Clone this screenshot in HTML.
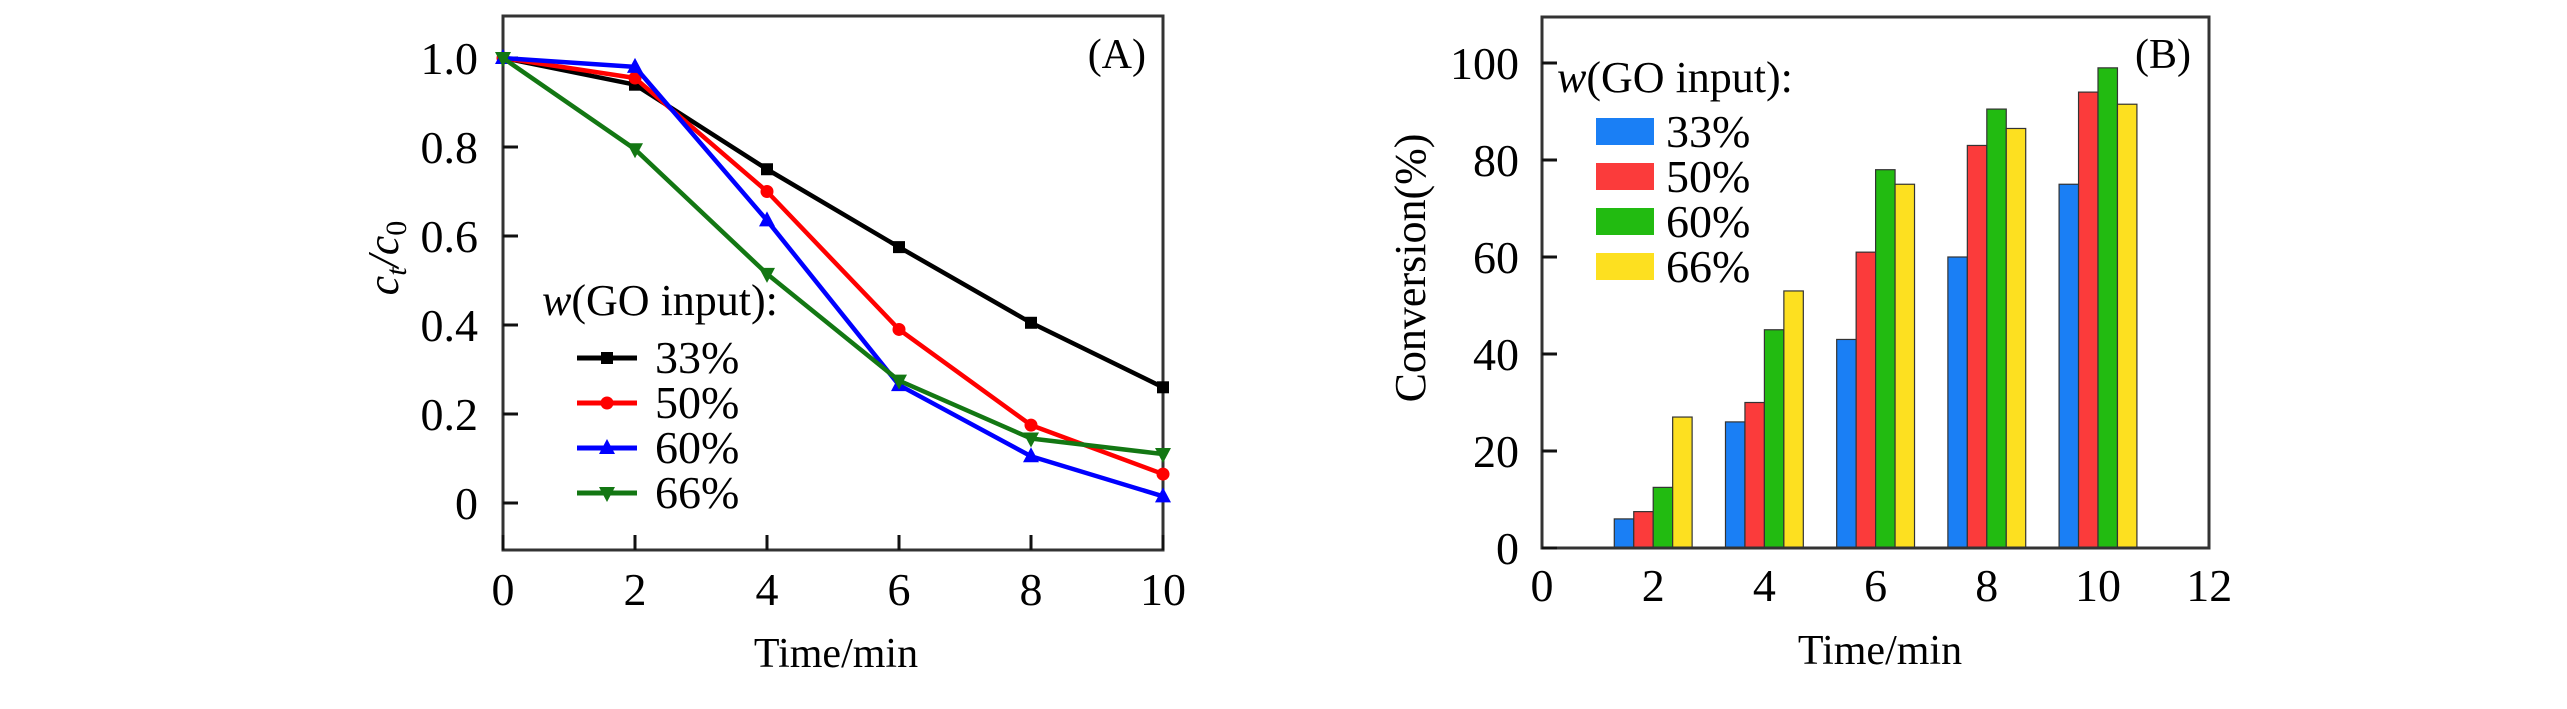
<!DOCTYPE html>
<html><head><meta charset="utf-8"><style>
html,body{margin:0;padding:0;background:#fff;}
svg{display:block;}
svg text{font-family:"Liberation Serif","Times New Roman",serif;}
</style></head><body>
<svg id="chart" width="2567" height="709" viewBox="0 0 2567 709" xmlns="http://www.w3.org/2000/svg" font-family="Liberation Serif, serif">
<g id="A"></g>
<g id="B"></g>
</svg>
<script>
const timesA = [0, 2, 4, 6, 8, 10];
const s33 = [1.0, 0.94, 0.75, 0.575, 0.405, 0.26];
const s50 = [1.0, 0.955, 0.70, 0.39, 0.175, 0.065];
const s60 = [1.0, 0.98, 0.635, 0.265, 0.105, 0.015];
const s66 = [1.0, 0.795, 0.515, 0.275, 0.145, 0.11];
const seriesLabels = ["33%", "50%", "60%", "66%"];
const xTicksA = [0, 2, 4, 6, 8, 10];
const yTicksA = [0, 0.2, 0.4, 0.6, 0.8, 1.0];
const yTickLabelsA = ["0", "0.2", "0.4", "0.6", "0.8", "1.0"];

const timesB = [2, 4, 6, 8, 10];
const b33 = [6, 26, 43, 60, 75];
const b50 = [7.5, 30, 61, 83, 94];
const b60 = [12.5, 45, 78, 90.5, 99];
const b66 = [27, 53, 75, 86.5, 91.5];
const xTicksB = [0, 2, 4, 6, 8, 10, 12];
const yTicksB = [0, 20, 40, 60, 80, 100];

const NS = "http://www.w3.org/2000/svg";
function mk(parent, tag, attrs, text) {
  const e = document.createElementNS(NS, tag);
  for (const k in attrs) e.setAttribute(k, attrs[k]);
  if (tag === 'text') e.setAttribute('font-family', 'Liberation Serif, serif');
  if (text !== undefined) e.textContent = text;
  parent.appendChild(e);
  return e;
}

// ---------- Panel A ----------
const A = document.getElementById('A');
const ax = v => 503 + v * 66;
const ay = v => 503 - v * 445;
let el;
el = mk(A, 'rect', {x:503, y:16, width:660, height:534, fill:'none', stroke:'#333', 'stroke-width':3});


xTicksA.forEach(t => {
  el = mk(A, 'line', {x1:ax(t), x2:ax(t), y1:550, y2:535, stroke:'#111', 'stroke-width':3});
  
  
  el = mk(A, 'text', {x:ax(t), y:605, 'font-size':46, 'text-anchor':'middle'}, String(t));
  
  
});
yTicksA.forEach((t, i) => {
  el = mk(A, 'line', {x1:503, x2:518, y1:ay(t), y2:ay(t), stroke:'#111', 'stroke-width':3});
  
  
  el = mk(A, 'text', {x:478, y:ay(t) + 16, 'font-size':46, 'text-anchor':'end'}, yTickLabelsA[i]);
  
  
});
el = mk(A, 'text', {x:836, y:667, 'font-size':42, 'text-anchor':'middle'}, 'Time/min');


el = mk(A, 'text', {x:0, y:0, 'font-size':44, 'text-anchor':'middle', 'font-style':'italic', transform:'translate(398,258) rotate(-90)'});


el.innerHTML = 'c<tspan font-size="30" dy="8">t</tspan><tspan dy="-8">/c</tspan><tspan font-size="30" dy="8" font-style="normal">0</tspan>';
el = mk(A, 'text', {x:1146, y:68, 'font-size':42, 'text-anchor':'end'}, '(A)');



const colorsA = ['#000000', '#ff0000', '#0000ff', '#137713'];
const dataA = [s33, s50, s60, s66];
function marker(g, type, x, y, c) {
  let m;
  if (type === 0) m = mk(g, 'rect', {x:x-6, y:y-6, width:12, height:12, fill:c});
  else if (type === 1) m = mk(g, 'circle', {cx:x, cy:y, r:6.5, fill:c});
  else if (type === 2) m = mk(g, 'polygon', {points:`${x},${y-9} ${x-8},${y+6} ${x+8},${y+6}`, fill:c});
  else m = mk(g, 'polygon', {points:`${x},${y+9} ${x-8},${y-6} ${x+8},${y-6}`, fill:c});
  return m;
}
dataA.forEach((s, si) => {
  const g = mk(A, 'g', {});
  
  
  const pts = s.map((v, i) => ax(timesA[i]) + ',' + ay(v)).join(' ');
  el = mk(g, 'polyline', {points:pts, fill:'none', stroke:colorsA[si], 'stroke-width':4.5, 'stroke-linejoin':'round'});
  
  
  s.forEach((v, i) => {
    el = marker(g, si, ax(timesA[i]), ay(v), colorsA[si]);
    
    
  });
});
// legend A
const legA = mk(A, 'g', {});


el = mk(legA, 'text', {x:542, y:315, 'font-size':44});


el.innerHTML = '<tspan font-style="italic">w</tspan>(GO input):';
seriesLabels.forEach((lab, i) => {
  const yb = 373 + i * 45;
  const ly = yb - 15;
  el = mk(legA, 'line', {x1:577, x2:637, y1:ly, y2:ly, stroke:colorsA[i], 'stroke-width':5});
  
  
  el = marker(legA, i, 607, ly, colorsA[i]);
  
  
  el = mk(legA, 'text', {x:655, y:yb, 'font-size':46}, lab);
  
  
});

// ---------- Panel B ----------
const B = document.getElementById('B');
const bx = v => 1542 + v * 55.6;
const by = v => 548 - v * 4.85;
const colorsB = ['#1a7ff5', '#fb3b3b', '#22bb11', '#fde020'];
const dataB = [b33, b50, b60, b66];
const bw = 0.35;
dataB.forEach((s, si) => {
  s.forEach((v, i) => {
    const x0 = bx(timesB[i] + (si - 2) * bw);
    el = mk(B, 'rect', {x:x0, y:by(v), width:bw * 55.6, height:by(0) - by(v), fill:colorsB[si], stroke:'#333', 'stroke-width':1.2});
    
    
  });
});
el = mk(B, 'rect', {x:1542, y:17, width:667, height:531, fill:'none', stroke:'#333', 'stroke-width':3});


xTicksB.forEach(t => {
  el = mk(B, 'text', {x:bx(t), y:601, 'font-size':46, 'text-anchor':'middle'}, String(t));
  
  
});
yTicksB.forEach(t => {
  el = mk(B, 'line', {x1:1542, x2:1557, y1:by(t), y2:by(t), stroke:'#111', 'stroke-width':3});
  
  
  el = mk(B, 'text', {x:1519, y:by(t) + 16, 'font-size':46, 'text-anchor':'end'}, String(t));
  
  
});
el = mk(B, 'text', {x:1880, y:664, 'font-size':42, 'text-anchor':'middle'}, 'Time/min');


el = mk(B, 'text', {x:0, y:0, 'font-size':44, 'text-anchor':'middle', transform:'translate(1425,268) rotate(-90)'}, 'Conversion(%)');


el = mk(B, 'text', {x:2191, y:68, 'font-size':42, 'text-anchor':'end'}, '(B)');


const legB = mk(B, 'g', {});


el = mk(legB, 'text', {x:1557, y:92, 'font-size':44});


el.innerHTML = '<tspan font-style="italic">w</tspan>(GO input):';
seriesLabels.forEach((lab, i) => {
  const top = 118 + i * 45;
  el = mk(legB, 'rect', {x:1596, y:top, width:58, height:27, fill:colorsB[i]});
  
  
  el = mk(legB, 'text', {x:1666, y:top + 29, 'font-size':46}, lab);
  
  
});
</script>
</body></html>
